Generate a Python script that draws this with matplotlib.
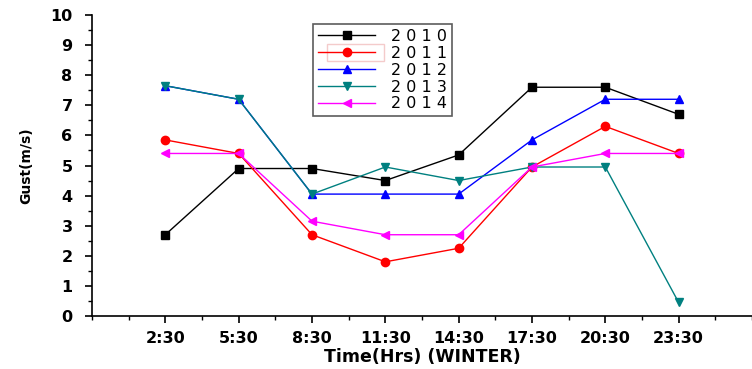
import matplotlib
matplotlib.use('Agg')
import matplotlib.pyplot as plt
from matplotlib.patches import Rectangle
from matplotlib.ticker import MultipleLocator

plt.rcParams['font.family'] = ['DejaVu Sans']

times = ['2:30', '5:30', '8:30', '11:30', '14:30', '17:30', '20:30', '23:30']
y2010 = [2.7, 4.9, 4.9, 4.5, 5.35, 7.6, 7.6, 6.7]
y2011 = [5.85, 5.4, 2.7, 1.8, 2.25, 4.95, 6.3, 5.4]
y2012 = [7.65, 7.2, 4.05, 4.05, 4.05, 5.85, 7.2, 7.2]
y2013 = [7.65, 7.2, 4.05, 4.95, 4.5, 4.95, 4.95, 0.45]
y2014 = [5.4, 5.4, 3.15, 2.7, 2.7, 4.95, 5.4, 5.4]

series = [
    ('2 0 1 0', y2010, 'black', 's'),
    ('2 0 1 1', y2011, '#ff0000', 'o'),
    ('2 0 1 2', y2012, '#0000ff', '^'),
    ('2 0 1 3', y2013, '#008080', 'v'),
    ('2 0 1 4', y2014, '#ff00ff', '<'),
]

fig = plt.figure(figsize=(7.52, 3.69), dpi=100)
ax = fig.add_axes([92 / 752, 1 - 316 / 369, 1 - 92 / 752, (316 - 15) / 369])

x = list(range(1, len(times) + 1))
for name, vals, col, mk in series:
    ax.plot(x, vals, color=col, marker=mk, markersize=6, linewidth=1, label=name)

ax.set_xlim(0, 9)
ax.set_ylim(0, 10)
ax.set_xticks(x)
ax.set_xticklabels(times)
ax.xaxis.set_minor_locator(MultipleLocator(0.5))
ax.yaxis.set_major_locator(MultipleLocator(1))
ax.yaxis.set_minor_locator(MultipleLocator(0.5))
ax.spines['top'].set_visible(False)
ax.spines['right'].set_visible(False)
ax.spines['left'].set_linewidth(1.2)
ax.spines['bottom'].set_linewidth(1.2)
ax.tick_params(which='major', length=5, width=1.2)
ax.tick_params(which='minor', length=3, width=1)
ax.tick_params(axis='y', which='major', pad=9)
ax.tick_params(axis='x', which='major', pad=6)
for lab in ax.get_xticklabels() + ax.get_yticklabels():
    lab.set_fontweight('bold')
    lab.set_fontsize(11.5)

ax.set_ylabel('Gust(m/s)', fontsize=10, fontweight='bold', labelpad=12)
ax.set_xlabel('Time(Hrs) (WINTER)', fontsize=12.5, fontweight='bold', labelpad=1)

leg = fig.legend(loc='upper left', bbox_to_anchor=(313 / 752, 1 - 24 / 369),
                 borderaxespad=0, frameon=True, fancybox=False,
                 edgecolor='#333333', fontsize=11.5, handlelength=3.6,
                 labelspacing=0.12, borderpad=0.3, handletextpad=1.0)
leg.get_frame().set_linewidth(1.2)

# red selection frame around the 2011 handle
fig.patches.append(Rectangle((327 / 752, 1 - 61 / 369), 57 / 752, 17 / 369,
                             transform=fig.transFigure, fill=False,
                             edgecolor='#cc0000', linewidth=1))

fig.savefig('out.png', dpi=100)
